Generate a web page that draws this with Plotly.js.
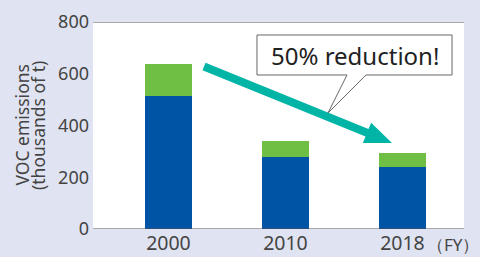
<!DOCTYPE html>
<html>
<head>
<meta charset="utf-8">
<script src="https://cdn.plot.ly/plotly-3.0.1.min.js"></script>
<style>
html,body{margin:0;padding:0;background:#e0e3f1;}
#chart{width:480px;height:257px;}
</style>
</head>
<body>
<div id="chart"></div>
<script>
const categories = ["2000", "2010", "2018"];
const blueValues = [514, 280, 240];
const greenValues = [124, 61, 54];
const yTicks = [0, 200, 400, 600, 800];
const unitLabel = "（FY）";
const calloutText = "50% reduction!";
const yTitleLines = ["VOC emissions", "(thousands of t)"];

const W = 480, H = 257;
const M = {l: 93, r: 16, t: 22, b: 28};
const pw = W - M.l - M.r, ph = H - M.t - M.b;
function px(x){ return (x - M.l) / pw; }
function py(y){ return (H - M.b - y) / ph; }
function path(pts){ return pts.map((p,i)=>(i?'L':'M')+px(p[0]).toFixed(4)+','+py(p[1]).toFixed(4)).join(' ')+' Z'; }

const xs = categories.map((c,i)=>i);
const font = "Noto Sans, Open Sans, DejaVu Sans, sans-serif";

const traces = [
  {type:'bar', x:xs, y:blueValues, marker:{color:'#0054a5'}, width:0.4, hoverinfo:'skip'},
  {type:'bar', x:xs, y:greenValues, marker:{color:'#70bf45'}, width:0.4, hoverinfo:'skip'}
];

// arrow geometry (pixel space -> paper)
const A = [204, 66.5], T = [392, 143];
const dx = T[0]-A[0], dy = T[1]-A[1], L = Math.hypot(dx,dy);
const u = [dx/L, dy/L], n = [-u[1], u[0]];
const hw = 4, headLen = 27, headHw = 11;
const Bc = [T[0]-u[0]*headLen, T[1]-u[1]*headLen];
const arrowPts = [
  [A[0]+n[0]*hw, A[1]+n[1]*hw],
  [Bc[0]+n[0]*hw, Bc[1]+n[1]*hw],
  [Bc[0]+n[0]*headHw, Bc[1]+n[1]*headHw],
  T,
  [Bc[0]-n[0]*headHw, Bc[1]-n[1]*headHw],
  [Bc[0]-n[0]*hw, Bc[1]-n[1]*hw],
  [A[0]-n[0]*hw, A[1]-n[1]*hw]
];
const calloutPts = [[257,35],[452,35],[452,75],[366,75],[328,113],[347,75],[257,75]];

const layout = {
  width: W, height: H,
  margin: M,
  paper_bgcolor: '#e0e3f1',
  plot_bgcolor: '#ffffff',
  barmode: 'stack',
  showlegend: false,
  font: {family: font, color: '#444'},
  xaxis: {
    range: [-0.645, 2.526], tickvals: xs, ticktext: categories,
    showgrid: false, zeroline: false, showline: false,
    ticks: '', tickfont: {size: 19.5, color: '#444'}, fixedrange: true
  },
  yaxis: {
    range: [0, 800], tickvals: yTicks, showgrid: false, zeroline: false,
    showline: false, ticks: '', ticklabelstandoff: 3,
    tickfont: {size: 18, color: '#444'},
    fixedrange: true
  },
  shapes: [
    {type:'line', xref:'paper', yref:'y', x0:0, x1:1, y0:800, y1:800, line:{color:'#555', width:1.2}},
    {type:'line', xref:'paper', yref:'y', x0:0, x1:1, y0:0, y1:0, line:{color:'#555', width:1.2}},
    {type:'path', xref:'paper', yref:'paper', path: path(arrowPts), fillcolor:'#00b5a6', line:{width:0}},
    {type:'path', xref:'paper', yref:'paper', path: path(calloutPts), fillcolor:'#ffffff', line:{color:'#666', width:1}}
  ],
  annotations: [
    {xref:'paper', yref:'paper', x: px(354.5), y: py(55), text: calloutText, showarrow:false,
     font:{size:24, color:'#222', family: font}, xanchor:'center', yanchor:'middle'},
    {xref:'paper', yref:'paper', x: px(481), y: py(245), text: unitLabel, showarrow:false,
     font:{size:17, color:'#444', family: font}, xanchor:'right', yanchor:'middle'},
    {xref:'paper', yref:'paper', x: px(21), y: py(125.5), text: yTitleLines[0], showarrow:false, textangle:-90,
     font:{size:17.5, color:'#444', family: font}, xanchor:'center', yanchor:'middle'},
    {xref:'paper', yref:'paper', x: px(37.5), y: py(125.5), text: yTitleLines[1], showarrow:false, textangle:-90,
     font:{size:17.5, color:'#444', family: font}, xanchor:'center', yanchor:'middle'}
  ]
};

Plotly.newPlot('chart', traces, layout, {displayModeBar:false, staticPlot:true});
</script>
</body>
</html>
